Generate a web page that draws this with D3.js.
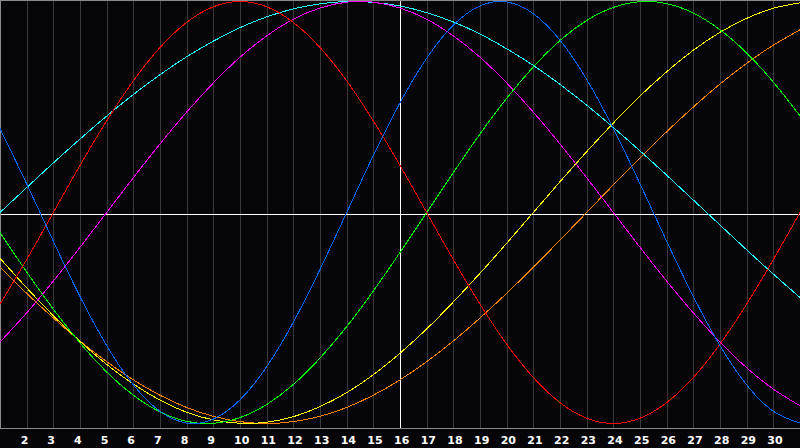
<!DOCTYPE html>
<html>
<head>
<meta charset="utf-8">
<script src="https://cdn.jsdelivr.net/npm/d3@7"></script>
<style>
  html, body { margin: 0; padding: 0; background: #060609; }
  svg { display: block; }
  .grid line { stroke: #3a3a3a; stroke-width: 1; shape-rendering: crispEdges; }
  .cycle { fill: none; stroke-width: 1; shape-rendering: crispEdges; }
  .day-label { fill: #fff; font: bold 11px "DejaVu Sans", sans-serif; }
</style>
</head>
<body>
<div class="chart"></div>
<script>
const outerWidth = 800;
const outerHeight = 448;
const plotBottom = 428;

// days shown on the chart, day 16 is "today"
const days = d3.range(1, 32);
const today = 16;
const tickLabels = d3.range(2, 31);

// daily values of each cycle (-1 .. 1)
const blueValues = [0.398, 0.136, -0.136, -0.398, -0.631, -0.817, -0.942, -0.998, -0.979, -0.888, -0.731, -0.520, -0.270, 0,
  0.270, 0.520, 0.731, 0.888, 0.979, 0.998, 0.942, 0.817, 0.631, 0.398, 0.136, -0.136, -0.398, -0.631, -0.817, -0.942, -0.998];
const redValues = [-0.434, -0.223, 0, 0.223, 0.434, 0.624, 0.782, 0.901, 0.975, 1, 0.975, 0.901, 0.782, 0.624, 0.434, 0.223,
  0, -0.223, -0.434, -0.624, -0.782, -0.901, -0.975, -1, -0.975, -0.901, -0.782, -0.624, -0.434, -0.223, 0];
const greenValues = [-0.095, -0.282, -0.458, -0.618, -0.756, -0.866, -0.945, -0.990, -0.999, -0.972, -0.910, -0.815, -0.690,
  -0.541, -0.372, -0.189, 0, 0.189, 0.372, 0.541, 0.690, 0.815, 0.910, 0.972, 0.999, 0.990, 0.945, 0.866, 0.756, 0.618, 0.458];
const magentaValues = [-0.614, -0.476, -0.325, -0.165, 0, 0.165, 0.325, 0.476, 0.614, 0.736, 0.837, 0.916, 0.969, 0.997,
  0.997, 0.969, 0.916, 0.837, 0.736, 0.614, 0.476, 0.325, 0.165, 0, -0.165, -0.325, -0.476, -0.614, -0.736, -0.837, -0.916];
const yellowValues = [-0.217, -0.357, -0.489, -0.611, -0.720, -0.813, -0.889, -0.947, -0.983, -0.999, -0.994, -0.968, -0.920,
  -0.854, -0.769, -0.667, -0.552, -0.424, -0.288, -0.146, 0, 0.146, 0.288, 0.424, 0.552, 0.667, 0.769, 0.854, 0.920, 0.968, 0.994];
const orangeValues = [-0.259, -0.383, -0.5, -0.609, -0.707, -0.793, -0.866, -0.924, -0.966, -0.991, -1, -0.991, -0.966,
  -0.924, -0.866, -0.793, -0.707, -0.609, -0.5, -0.383, -0.259, -0.131, 0, 0.131, 0.259, 0.383, 0.5, 0.609, 0.707, 0.793, 0.866];
const cyanValues = [0, 0.118, 0.235, 0.348, 0.457, 0.559, 0.653, 0.738, 0.812, 0.876, 0.927, 0.965, 0.989, 1.0, 0.996,
  0.979, 0.947, 0.903, 0.846, 0.776, 0.697, 0.607, 0.509, 0.403, 0.292, 0.177, 0.059, -0.059, -0.177, -0.292, -0.403];

const cycles = [
  {name: 'cyan', color: '#22ffff', values: cyanValues},
  {name: 'orange', color: '#ff8000', values: orangeValues},
  {name: 'yellow', color: '#ffff00', values: yellowValues},
  {name: 'magenta', color: '#ff00ff', values: magentaValues},
  {name: 'green', color: '#00ff00', values: greenValues},
  {name: 'red', color: '#ff0000', values: redValues},
  {name: 'blue', color: '#0066ff', values: blueValues},
];

const svg = d3.select('.chart').append('svg')
  .attr('width', outerWidth)
  .attr('height', outerHeight);

svg.append('rect')
  .attr('width', outerWidth)
  .attr('height', outerHeight)
  .attr('fill', '#060609');

const x = d3.scaleLinear().domain([1, 31]).range([0, outerWidth]);
const y = d3.scaleLinear().domain([-1, 1]).range([423.5, 1.5]);

// day grid
svg.append('g')
  .attr('class', 'grid')
  .selectAll('line')
  .data(tickLabels)
  .join('line')
  .attr('x1', d => Math.round(x(d)) + 0.5)
  .attr('x2', d => Math.round(x(d)) + 0.5)
  .attr('y1', 0)
  .attr('y2', plotBottom);

// frame
svg.append('path')
  .attr('d', `M0.5,${plotBottom + 0.5}V0.5H${outerWidth}M0,${plotBottom + 0.5}H${outerWidth}`)
  .attr('fill', 'none')
  .attr('stroke', '#8a8a8a')
  .attr('shape-rendering', 'crispEdges');

// zero line and today marker
svg.append('line')
  .attr('x1', 1).attr('x2', outerWidth)
  .attr('y1', 214.5).attr('y2', 214.5)
  .attr('stroke', '#fff')
  .attr('shape-rendering', 'crispEdges');

svg.append('line')
  .attr('x1', Math.round(x(today)) + 0.5).attr('x2', Math.round(x(today)) + 0.5)
  .attr('y1', 1).attr('y2', plotBottom)
  .attr('stroke', '#fff')
  .attr('shape-rendering', 'crispEdges');

const line = d3.line()
  .x((d, i) => x(days[i]))
  .y(d => y(d))
  .curve(d3.curveNatural);

svg.append('g')
  .selectAll('path')
  .data(cycles)
  .join('path')
  .attr('class', 'cycle')
  .attr('stroke', d => d.color)
  .attr('d', d => line(d.values));

// day labels
svg.append('g')
  .selectAll('text')
  .data(tickLabels)
  .join('text')
  .attr('class', 'day-label')
  .attr('x', d => x(d) - 6)
  .attr('y', 444)
  .text(d => d);
</script>
</body>
</html>
